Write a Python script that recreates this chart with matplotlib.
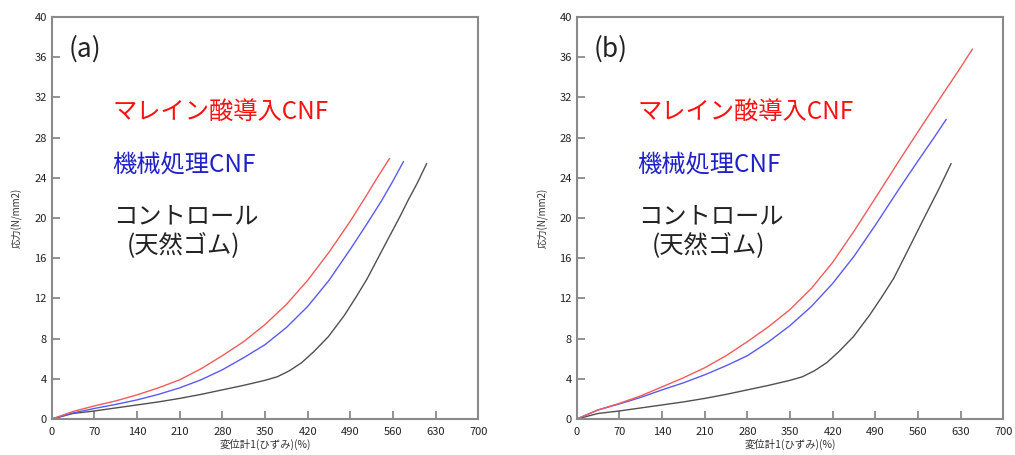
import matplotlib
matplotlib.use('Agg')
import matplotlib.pyplot as plt

plt.rcParams['font.family'] = ['Noto Sans CJK JP', 'DejaVu Sans']

# (a) stress-strain curves
a_red_x = [0, 35, 70, 105, 140, 175, 210, 245, 280, 315, 350, 385, 420, 455, 490, 517, 535, 554]
a_red_y = [0, 0.75, 1.3, 1.8, 2.4, 3.1, 3.9, 5.0, 6.3, 7.7, 9.4, 11.4, 13.8, 16.6, 19.7, 22.3, 24.1, 25.9]
a_blue_x = [0, 35, 70, 105, 140, 175, 210, 245, 280, 315, 350, 385, 420, 455, 490, 517, 541, 560, 577]
a_blue_y = [0, 0.6, 1.05, 1.45, 1.9, 2.45, 3.1, 3.9, 4.9, 6.1, 7.4, 9.1, 11.2, 13.8, 16.9, 19.4, 21.7, 23.7, 25.6]
a_black_x = [0, 35, 70, 105, 140, 175, 210, 245, 280, 315, 350, 370, 390, 410, 430, 454, 480, 500, 517, 550, 571, 585, 600, 615]
a_black_y = [0, 0.55, 0.8, 1.1, 1.4, 1.7, 2.05, 2.45, 2.9, 3.35, 3.85, 4.2, 4.8, 5.6, 6.7, 8.2, 10.3, 12.2, 13.9, 17.7, 20.1, 21.8, 23.5, 25.4]

# (b) stress-strain curves
b_red_x = [0, 35, 70, 105, 140, 175, 210, 245, 280, 315, 350, 385, 420, 455, 490, 531, 560, 597, 630, 649]
b_red_y = [0, 0.9, 1.56, 2.3, 3.2, 4.1, 5.1, 6.3, 7.7, 9.2, 10.9, 13.0, 15.6, 18.7, 22.0, 25.9, 28.6, 32.0, 35.0, 36.8]
b_blue_x = [0, 35, 70, 105, 140, 175, 210, 245, 280, 315, 350, 385, 420, 455, 490, 531, 560, 585, 606]
b_blue_y = [0, 0.9, 1.5, 2.15, 2.9, 3.6, 4.4, 5.3, 6.3, 7.7, 9.3, 11.2, 13.5, 16.2, 19.3, 23.1, 25.7, 27.9, 29.8]
b_black_x = [0, 35, 70, 105, 140, 175, 210, 245, 280, 315, 350, 370, 390, 410, 430, 454, 480, 500, 520, 545, 569, 595, 614]
b_black_y = [0, 0.55, 0.8, 1.1, 1.4, 1.7, 2.05, 2.45, 2.9, 3.35, 3.85, 4.2, 4.8, 5.6, 6.7, 8.2, 10.3, 12.1, 14.0, 17.0, 19.9, 23.0, 25.4]

xticks = [0, 70, 140, 210, 280, 350, 420, 490, 560, 630, 700]
yticks = [0, 4, 8, 12, 16, 20, 24, 28, 32, 36, 40]

panels = [
    ('(a)', a_red_x, a_red_y, a_blue_x, a_blue_y, a_black_x, a_black_y),
    ('(b)', b_red_x, b_red_y, b_blue_x, b_blue_y, b_black_x, b_black_y),
]

fig = plt.figure(figsize=(10.15, 4.55), dpi=100)
lefts = [0.0509, 0.5682]

for left, (tag, rx, ry, bx, by, kx, ky) in zip(lefts, panels):
    ax = fig.add_axes([left, 0.0791, 0.4204, 0.8835])
    ax.plot(kx, ky, color='#505050', lw=1.0)
    ax.plot(bx, by, color='#5a5af0', lw=1.0)
    ax.plot(rx, ry, color='#f55a5a', lw=1.0)
    ax.set_xlim(0, 700)
    ax.set_ylim(0, 40)
    ax.set_xticks(xticks)
    ax.set_yticks(yticks)
    ax.tick_params(direction='in', length=6, width=1.2, color='#808080',
                   labelsize=8, labelcolor='#222222')
    ax.tick_params(axis='x', pad=6)
    for s in ax.spines.values():
        s.set_color('#8a8a8a')
        s.set_linewidth(1.5)
    ax.set_xlabel('変位計1(ひずみ)(%)', fontsize=7.5, color='#333333', labelpad=1)
    ax.set_ylabel('応力(N/mm2)', fontsize=7, color='#333333', labelpad=8)

    ax.text(0.04, 0.92, tag, transform=ax.transAxes, fontsize=19, color='#222222',
            va='center', ha='left')
    ax.text(0.143, 0.765, 'マレイン酸導入CNF', transform=ax.transAxes, fontsize=17.5,
            color='#ff1010', va='center', ha='left')
    ax.text(0.143, 0.632, '機械処理CNF', transform=ax.transAxes, fontsize=17.5,
            color='#2020c8', va='center', ha='left')
    ax.text(0.145, 0.505, 'コントロール', transform=ax.transAxes, fontsize=17.5,
            color='#222222', va='center', ha='left')
    ax.text(0.177, 0.43, '(天然ゴム)', transform=ax.transAxes, fontsize=17.5,
            color='#222222', va='center', ha='left')

fig.savefig('out.png', dpi=100)
